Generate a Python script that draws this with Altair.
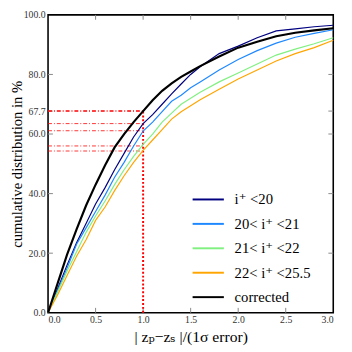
import altair as alt
import pandas as pd

xs = [0.0, 0.1, 0.2, 0.3, 0.4, 0.5, 0.6, 0.7, 0.8, 0.9, 1.0, 1.1, 1.2, 1.3, 1.4, 1.5, 1.6, 1.8, 2.0, 2.2, 2.4, 2.6, 2.8, 3.0]
navy = [0, 8, 16, 23.5, 30, 36.5, 42, 48, 53.5, 59, 63.5, 66.5, 70, 73.5, 76.8, 80, 82.6, 87, 89.5, 92.3, 94.6, 95.3, 96, 96.5]
blue = [0, 7.5, 15, 23, 28.5, 34, 39.5, 45.5, 50.5, 56, 61, 64, 67.5, 71, 73, 75.5, 77.5, 81.5, 85, 88, 90.5, 92.5, 93.8, 95]
green = [0, 7, 14, 20.5, 27, 32.5, 37.5, 43, 48, 52.5, 56.5, 60, 64, 67, 70, 72, 74, 77.5, 80.5, 83.5, 86.5, 88.5, 90.3, 92.3]
orange = [0, 6, 12.5, 19, 24.5, 31, 35.5, 41, 46, 50.5, 54.5, 58, 61.5, 65, 67.5, 69.5, 71.5, 75, 78.5, 81.5, 84.5, 87, 89, 91.5]
corrected = [0, 9.8, 19.5, 28, 36, 43, 49.5, 55.5, 60, 64, 67.7, 71.3, 74.5, 77, 79.2, 81, 82.8, 86, 89, 91, 92.8, 94, 94.8, 95.5]

labels = ["i⁺ <20", "20< i⁺ <21", "21< i⁺ <22", "22< i⁺ <25.5", "corrected"]
colors = ["#000080", "#1e88ff", "#80f080", "#ffa500", "#000000"]
series = [navy, blue, green, orange, corrected]

at_one = [67.7, 63.5, 61.1, 56.0, 54.3]
y_ticks = [0, 20, 40, 60, 67.7, 80, 100]
x_ticks = [0.0, 0.5, 1.0, 1.5, 2.0, 2.5, 3.0]

rows = []
for lab, vals in zip(labels, series):
    for x, y in zip(xs, vals):
        rows.append({"x": x, "y": y, "s": lab, "w": 2.2 if lab == "corrected" else 1.2})
df = pd.DataFrame(rows)

W, H = 292, 305
font = "'Liberation Serif', 'Times New Roman', 'DejaVu Serif', 'Noto Serif', serif"

xsc = alt.Scale(domain=[0, 3], nice=False)
ysc = alt.Scale(domain=[0, 100], nice=False)

lines = alt.Chart(df).mark_line().encode(
    x=alt.X("x:Q", scale=xsc, axis=alt.Axis(values=x_ticks, format=".1f", tickSize=0,
                                            labelPadding=2, domain=False, grid=False,
                                            title="| zₚ−zₛ |/(1σ error)", titleFontSize=16,
                                            titleFontWeight="normal", titlePadding=4,
                                            labelFont=font, titleFont=font)),
    y=alt.Y("y:Q", scale=ysc, axis=alt.Axis(values=y_ticks, format=".1f", tickSize=0,
                                            labelPadding=3, domain=False, grid=False,
                                            title="cumulative distribution in %", titleFontSize=15,
                                            titleFontWeight="normal", titleX=-24, titleY=H / 2,
                                            titleAngle=270, titleBaseline="bottom",
                                            labelFont=font, titleFont=font)),
    color=alt.Color("s:N", scale=alt.Scale(domain=labels, range=colors), sort=labels,
                    legend=alt.Legend(title=None, orient="none", legendX=147, legendY=172,
                                      symbolType="stroke", symbolSize=1024, symbolStrokeWidth=2,
                                      labelFontSize=15, labelFont=font, labelOffset=10,
                                      rowPadding=0, padding=0, labelColor="#000")),
    strokeWidth=alt.StrokeWidth("w:Q", scale=None, legend=None),
    order="x:Q",
)

hdf = pd.DataFrame({"y": at_one, "x0": [0] * 5, "x1": [1] * 5,
                    "w": [1.5, 1, 1, 1, 1], "o": [1, 0.8, 0.8, 0.8, 0.8]})
hrules = alt.Chart(hdf).mark_rule(color="red", strokeDash=[4, 2, 1, 2]).encode(
    x="x0:Q", x2="x1:Q", y="y:Q",
    strokeWidth=alt.StrokeWidth("w:Q", scale=None),
    opacity=alt.Opacity("o:Q", scale=None),
)
vdf = pd.DataFrame({"x": [1.0], "y0": [0], "y1": [at_one[0]]})
vrule = alt.Chart(vdf).mark_rule(color="red", strokeDash=[2, 2], strokeWidth=2).encode(
    x="x:Q", y="y0:Q", y2="y1:Q")

xt = pd.DataFrame({"x": x_ticks[1:-1]})
yt = pd.DataFrame({"y": y_ticks[1:-1]})
tick_col = "#888888"
bt = alt.Chart(xt).mark_rule(color=tick_col).encode(x="x:Q", y=alt.value(H), y2=alt.value(H - 5))
tt = alt.Chart(xt).mark_rule(color=tick_col).encode(x="x:Q", y=alt.value(0), y2=alt.value(5))
lt = alt.Chart(yt).mark_rule(color=tick_col).encode(y="y:Q", x=alt.value(0), x2=alt.value(5))
rt = alt.Chart(yt).mark_rule(color=tick_col).encode(y="y:Q", x=alt.value(W), x2=alt.value(W - 5))

chart = alt.layer(bt, tt, lt, rt, hrules, vrule, lines).properties(
    width=W, height=H,
    autosize=alt.AutoSizeParams(type="none"),
    padding={"left": 41, "top": 3, "right": 11, "bottom": 30},
).configure_view(stroke="black", strokeWidth=1.6).configure_axis(
    labelFontSize=10, labelColor="#333", titleColor="#000"
)

chart.save("out.html", embed_options={"renderer": "svg", "actions": False})
